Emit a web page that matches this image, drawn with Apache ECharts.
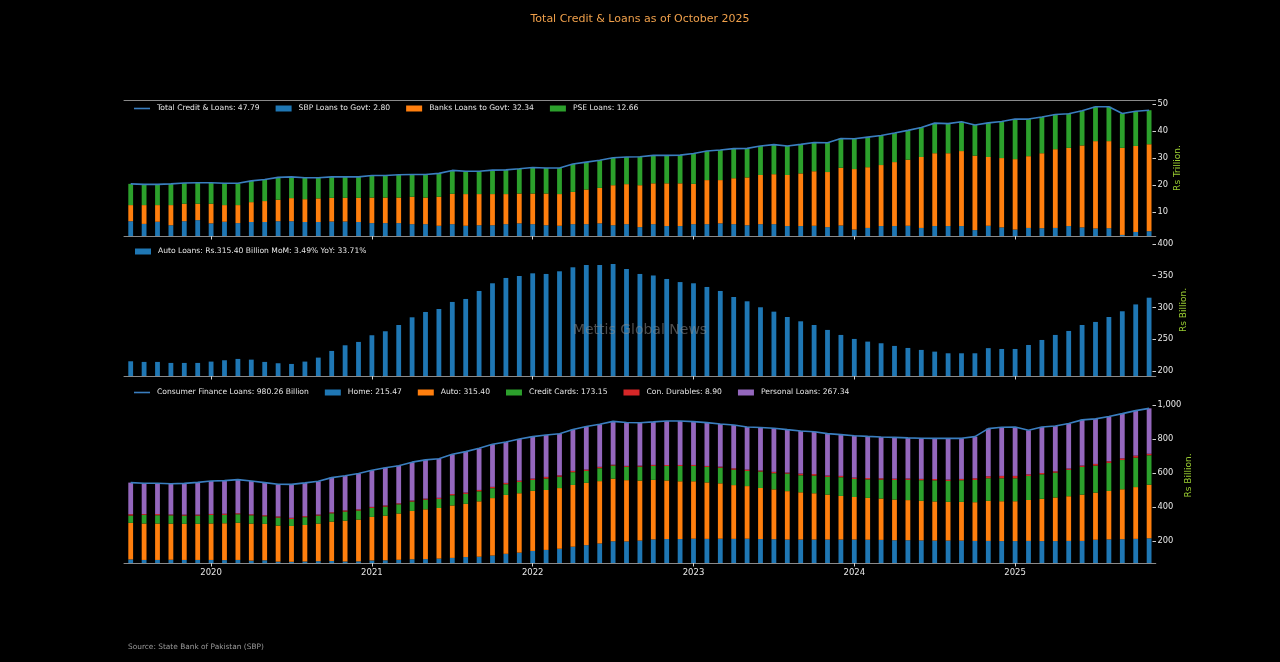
<!DOCTYPE html>
<html>
<head>
<meta charset="utf-8">
<script src="https://cdn.jsdelivr.net/npm/echarts@6.0.0/dist/echarts.min.js"></script>
<style>
html,body{margin:0;padding:0;background:#000;}
#chart{width:1280px;height:662px;}
</style>
</head>
<body>
<div id="chart"></div>
<script>
// ---------- categories (month-end, Jun 2019 .. Oct 2025) ----------
const months = [];
for (let y = 2019, m = 6; y < 2025 || (y === 2025 && m <= 10); m++) {
  if (m > 12) { m = 1; y++; }
  months.push(y + '-' + String(m).padStart(2, '0'));
}
const yearLabels = ['2020', '2021', '2022', '2023', '2024', '2025'];

// ---------- Panel 1: Total Credit & Loans (Rs Trillion) ----------
const sbp = [6.5,5.5,6.3,5.0,6.5,6.9,5.7,6.3,5.8,6.2,
  6.2,6.5,6.5,6.2,6.2,6.4,6.4,6.2,5.8,5.8,
  5.8,5.4,5.4,4.8,5.4,4.8,5.0,5.0,5.4,5.7,
  5.4,5.0,4.8,5.4,5.4,5.7,5.0,5.4,4.3,5.4,
  4.7,4.7,5.4,5.4,5.7,5.4,5.0,5.4,5.4,4.7,
  4.7,4.8,4.3,4.9,3.4,4.0,4.7,4.7,4.8,4.0,
  4.7,4.7,4.7,3.2,4.8,4.2,3.4,4.0,3.9,4.0,
  4.7,4.2,3.8,3.9,1.4,2.5,2.80];
const banks = [6.0,7.0,6.2,7.5,6.5,6.1,7.3,6.2,6.7,7.4,
  7.8,8.0,8.6,8.5,8.8,8.8,8.8,9.0,9.5,9.5,
  9.5,10.2,9.9,10.8,11.3,11.8,11.6,11.6,11.2,11.1,
  11.4,11.8,11.8,12.0,12.9,13.2,14.9,14.9,15.6,15.2,
  15.9,15.9,15.0,16.4,16.1,17.1,17.8,18.3,18.6,19.0,
  19.6,20.3,20.5,21.5,22.5,22.6,22.7,23.8,24.6,26.4,
  27.1,27.1,27.9,27.7,25.6,25.8,26.2,26.7,27.9,29.3,
  29.1,30.5,32.5,32.4,32.4,32.0,32.34];
const pse = [7.9,7.7,7.7,7.9,7.7,7.8,7.8,8.1,8.1,7.9,
  8.0,8.3,7.9,8.0,7.7,7.8,7.8,7.8,8.2,8.2,
  8.5,8.3,8.6,8.7,8.7,8.5,8.5,8.9,9.0,9.2,
  9.7,9.5,9.7,10.4,10.2,10.3,10.2,10.1,10.6,10.4,
  10.4,10.5,11.3,10.8,11.2,11.0,10.8,10.8,11.0,10.8,
  10.8,10.7,10.9,10.9,11.3,11.2,11.0,10.8,10.9,11.0,
  11.2,11.0,10.9,11.4,12.7,13.6,14.9,13.8,13.5,12.9,
  12.7,12.9,12.8,12.8,12.8,12.9,12.66];

// ---------- Panel 2 / 3: Consumer finance (Rs Billion) ----------
const auto = [215.2,214.2,214.2,212.6,212.6,212.6,214.7,216.8,218.9,217.8,
  214.2,212.1,211.0,214.7,221.0,231.5,240.4,245.7,256.2,262.5,
  272.4,284.5,292.9,297.6,308.7,313.4,326.0,338.1,346.5,349.6,
  353.8,352.8,357.0,363.3,366.9,366.9,368.5,360.6,352.8,350.4,
  344.9,340.0,338.1,332.3,326.0,316.5,309.7,300.3,293.4,285.0,
  278.2,272.4,264.6,256.7,250.4,246.2,243.6,239.4,236.2,233.1,
  230.4,227.8,227.8,227.8,235.9,234.6,234.6,240.9,248.8,256.7,
  263.0,272.4,277.2,285.0,294.0,304.8,315.40];
const home = [91,88,88,89,88,88,88,87,88,84,
  86,78,77,79,81,82,79,80,85,86,
  89,92,93,96,100,105,107,114,124,131,
  141,147,154,166,175,185,198,197,202,209,
  211,211,213,212,213,212,213,211,210,208,
  208,208,208,208,208,207,206,204,204,203,
  202,202,202,200,200,199,199,200,199,199,
  200,200,207,209,210,212,215.47];
const cards = [43,51,49,49,48,48,50,49,50,49,
  45,47,41,46,47,49,53,53,53,53,
  54,55,57,53,60,58,59,58,63,66,
  64,67,67,75,70,76,77,78,82,82,
  85,90,90,91,92,91,89,97,95,103,
  100,104,104,110,106,109,111,115,119,121,
  124,123,127,131,133,135,135,141,144,146,
  155,163,159,165,172,173,173.15];
const durables = [8,5,7,5,6,6,6,7,6,6,
  6,7,7,6,6,6,7,7,6,7,
  6,6,6,7,7,8,8,8,8,8,
  8,10,8,8,8,8,5,6,6,6,
  6,6,6,6,6,8,8,6,8,6,
  10,9,8,8,8,8,8,8,8,8,
  8,8,8,10,12,14,14,10,8,8,
  8,8,10,10,10,12,8.90];
const personal = [186,181,181,181,184,190,194,195,198,196,
  192,189,197,196,196,204,204,211,216,222,
  221,226,228,230,234,241,245,251,241,245,
  247,247,245,243,253,251,255,255,253,253,
  259,259,255,255,251,255,251,253,257,253,
  251,249,247,243,247,245,243,243,239,239,
  239,243,239,245,280,286,288,259,271,267,
  265,269,265,263,263,265,267.34];

// ---------- derived totals ----------
const totalCredit = sbp.map((v, i) => +(v + banks[i] + pse[i]).toFixed(2));
const totalConsumer = home.map((v, i) => +(v + auto[i] + cards[i] + durables[i] + personal[i]).toFixed(2));

// ---------- legend texts ----------
const N_TOTAL = 'Total Credit & Loans: 47.79';
const N_SBP = 'SBP Loans to Govt: 2.80';
const N_BANKS = 'Banks Loans to Govt: 32.34';
const N_PSE = 'PSE Loans: 12.66';
const N_AUTOL = 'Auto Loans: Rs.315.40 Billion MoM: 3.49% YoY: 33.71%';
const N_CFL = 'Consumer Finance Loans: 980.26 Billion';
const N_HOME = 'Home: 215.47';
const N_AUTO = 'Auto: 315.40';
const N_CC = 'Credit Cards: 173.15';
const N_CD = 'Con. Durables: 8.90';
const N_PL = 'Personal Loans: 267.34';

// ---------- styling ----------
const FONT = 'DejaVu Sans';
const C = { blue: '#1f77b4', orange: '#ff7f0e', green: '#2ca02c', red: '#d62728', purple: '#9467bd' };
const LINE = '#3a7ebf';
const AXIS = '#8a8a8a';
const TXT = '#e6e6e6';
const NAMEC = '#9acd32';
const BW = 4.8;
const LINE_ICON = 'path://M0,0H20V2H0Z';

const isYearTick = (idx) => months[idx].slice(5) === '12';

function xAx(grid, opts) {
  return Object.assign({
    gridIndex: grid, type: 'category', data: months, boundaryGap: true,
    axisLine: { show: true, lineStyle: { color: AXIS, width: 1 } },
    axisTick: { show: true, interval: (i) => isYearTick(i), alignWithLabel: true, length: 3.5, lineStyle: { color: '#d0d0d0' } },
    axisLabel: { show: false },
    splitLine: { show: false }
  }, opts || {});
}
function yAx(grid, min, max, step, name, hideMax, gap) {
  return {
    gridIndex: grid, type: 'value', position: 'right', offset: -3.3,
    min: min, max: max, splitNumber: Math.round((max - min) / step), minInterval: step, maxInterval: step,
    axisLine: { show: false },
    axisTick: { show: true, length: 3.5, lineStyle: { color: '#d0d0d0' } },
    axisLabel: { color: TXT, fontSize: 8.3, fontFamily: FONT, margin: 5, showMinLabel: false, showMaxLabel: !hideMax },
    splitLine: { show: false },
    name: name, nameLocation: 'middle', nameGap: gap, nameRotate: 90, nameMoveOverlap: false,
    nameTextStyle: { color: NAMEC, fontSize: 9, fontFamily: FONT }
  };
}
const legendText = { color: TXT, fontSize: 7.6, fontFamily: FONT, padding: [0, 0, 0, 2] };
function legend(names, left, top, lineFirst) {
  return {
    left: left, top: top, orient: 'horizontal', itemWidth: 16, itemHeight: 6, itemGap: 16,
    padding: 0, textStyle: legendText, selectedMode: false, symbolKeepAspect: true,
    data: names.map((n, i) => (lineFirst && i === 0) ? { name: n, icon: LINE_ICON } : { name: n, icon: 'rect' })
  };
}
function bar(name, data, color, xi, yi, stack) {
  return { type: 'bar', name: name, data: data, xAxisIndex: xi, yAxisIndex: yi, stack: stack,
    barWidth: BW, itemStyle: { color: color }, emphasis: { disabled: true } };
}
function line(name, data, xi, yi) {
  return { type: 'line', name: name, data: data, xAxisIndex: xi, yAxisIndex: yi,
    symbol: 'none', showSymbol: false, z: 5,
    lineStyle: { color: LINE, width: 1.6 }, itemStyle: { color: LINE }, emphasis: { disabled: true } };
}

const chart = echarts.init(document.getElementById('chart'), null, { renderer: 'canvas' });
chart.setOption({
  backgroundColor: '#000',
  animation: false,
  title: {
    text: 'Total Credit & Loans as of October 2025', left: 'center', top: 9,
    textStyle: { color: '#f0a04b', fontSize: 11, fontWeight: 'normal', fontFamily: FONT }
  },
  grid: [
    { left: 124, width: 1031.8, top: 100, height: 136 },
    { left: 124, width: 1031.8, top: 244, height: 132 },
    { left: 124, width: 1031.8, top: 388, height: 175 }
  ],
  xAxis: [
    xAx(0),
    xAx(0, { position: 'top', axisTick: { show: false } }),
    xAx(1),
    xAx(2, { axisLabel: { show: true, interval: (i) => isYearTick(i), color: TXT, fontSize: 8.5, fontFamily: FONT, margin: 5,
      formatter: (v) => yearLabels[yearLabels.indexOf(String(+v.slice(0, 4) + 1))] } })
  ],
  yAxis: [
    yAx(0, 1.0, 51.6, 10, 'Rs Trillion.', true, 21),
    yAx(1, 192, 400, 50, 'Rs Billion.', false, 27),
    yAx(2, 70, 1100, 200, 'Rs Billion.', true, 32)
  ],
  legend: [
    legend([N_TOTAL, N_SBP, N_BANKS, N_PSE], 134, 104.5, true),
    legend([N_AUTOL], 135, 247.5, false),
    legend([N_CFL, N_HOME, N_AUTO, N_CC, N_CD, N_PL], 134, 388.5, true)
  ],
  series: [
    line(N_TOTAL, totalCredit, 0, 0),
    bar(N_SBP, sbp, C.blue, 0, 0, 'credit'),
    bar(N_BANKS, banks, C.orange, 0, 0, 'credit'),
    bar(N_PSE, pse, C.green, 0, 0, 'credit'),
    bar(N_AUTOL, auto, C.blue, 2, 1),
    line(N_CFL, totalConsumer, 3, 2),
    bar(N_HOME, home, C.blue, 3, 2, 'cf'),
    bar(N_AUTO, auto, C.orange, 3, 2, 'cf'),
    bar(N_CC, cards, C.green, 3, 2, 'cf'),
    bar(N_CD, durables, C.red, 3, 2, 'cf'),
    bar(N_PL, personal, C.purple, 3, 2, 'cf')
  ],
  graphic: [
    { type: 'text', x: 640, y: 330, z: 100,
      style: { text: 'Mettis Global News', fill: 'rgba(140,140,140,0.55)', font: '14px "DejaVu Sans"',
        align: 'center', verticalAlign: 'middle', textAlign: 'center', textVerticalAlign: 'middle' } },
    { type: 'text', x: 128, y: 647, z: 100,
      style: { text: 'Source: State Bank of Pakistan (SBP)', fill: '#9a9a9a', font: '7.4px "DejaVu Sans"',
        align: 'left', verticalAlign: 'middle', textAlign: 'left', textVerticalAlign: 'middle' } }
  ]
});
</script>
</body>
</html>
